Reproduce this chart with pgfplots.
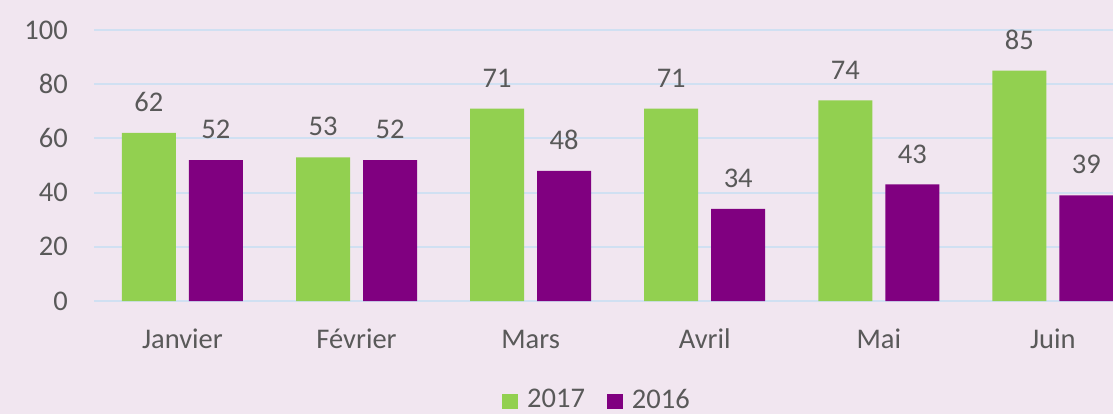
\documentclass[border=0pt]{standalone}
\usepackage{fontspec}
\setmainfont{Carlito}
\usepackage{pgfplots}
\pgfplotsset{compat=1.18}
\definecolor{bg}{RGB}{241,230,240}
\definecolor{gridc}{RGB}{208,224,242}
\definecolor{vert}{RGB}{146,208,80}
\definecolor{violet}{RGB}{128,0,128}
\definecolor{txt}{RGB}{89,89,89}
\newcommand{\lbl}{\fontsize{28.5bp}{34bp}\selectfont}
\begin{document}
\begin{tikzpicture}
\path[fill=bg,use as bounding box] (0,0) rectangle (1113bp,414bp);
\begin{axis}[
 at={(94bp,113bp)}, anchor=south west,
 scale only axis, width=1019bp, height=271bp,
 xmin=-0.508, xmax=5.345, ymin=0, ymax=100,
 ybar=13bp, bar width=54bp,
 axis line style={draw=none},
 major tick length=0pt,
 ytick={0,20,...,100},
 xtick={0,...,5},
 xticklabels={Janvier,Février,Mars,Avril,Mai,Juin},
 ymajorgrids, grid style={gridc, line width=2bp},
 tick label style={font=\lbl, text=txt, inner sep=0pt},
 /pgf/number format/assume math mode=true,
 yticklabel shift=26bp,
 xticklabel style={anchor=base},
 xticklabel shift=47bp,
 nodes near coords,
 every node near coord/.append style={font=\lbl, text=txt, inner sep=0pt, anchor=south, yshift=21bp},
 clip=false,
 legend style={at={(0.4926,-0.3634)}, anchor=center, legend columns=2, draw=none, fill=none, font=\lbl, text=txt, inner sep=0pt, nodes={inner sep=0pt},
   /tikz/every odd column/.append style={column sep=9bp},
   /tikz/every even column/.append style={column sep=22bp}},
 legend image code/.code={\fill[#1] (0bp,-9.5bp) rectangle (16bp,5.5bp);},
]
\addplot[fill=vert, draw=none] coordinates {(0,62) (1,53) (2,71) (3,71) (4,74) (5,85)};
\addplot[fill=violet, draw=none] coordinates {(0,52) (1,52) (2,48) (3,34) (4,43) (5,39)};
\legend{2017,2016}
\end{axis}
\end{tikzpicture}
\end{document}
